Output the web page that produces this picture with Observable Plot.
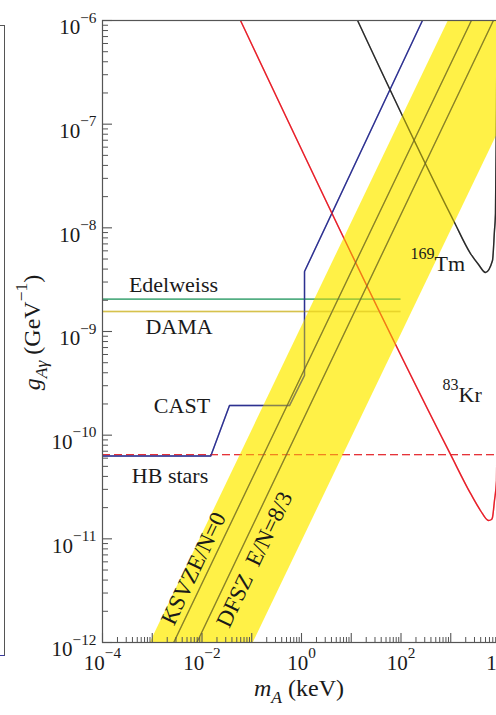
<!DOCTYPE html>
<html>
<head>
<meta charset="utf-8">
<script src="https://cdn.jsdelivr.net/npm/d3@7"></script>
<script src="https://cdn.jsdelivr.net/npm/@observablehq/plot@0.6"></script>
<style>
  html, body { margin: 0; padding: 0; background: #fff; overflow: hidden; width: 496px; height: 715px; }
  #wrap { position: relative; width: 496px; height: 715px; overflow: hidden; }
  #chart svg { max-width: none !important; display: block; }
  /* edge of the neighbouring panel */
  .neighbor { position: absolute; left: 0; top: 25px; width: 5px; height: 631px; box-sizing: border-box;
              border-right: 1.2px solid #555; border-top: 1.2px solid #555; border-bottom: 1.5px solid #3a3aa0; }
</style>
</head>
<body>
<div id="wrap"><div id="chart"></div><div class="neighbor"></div></div>
<script>
// ---- axes: decades, tick values and tick labels ----
const xDecades = [1e-4, 1e-3, 1e-2, 1e-1, 1e0, 1e1, 1e2, 1e3, 1e4];
const yDecades = [1e-12, 1e-11, 1e-10, 1e-9, 1e-8, 1e-7, 1e-6];
const minorSteps = [2, 3, 4, 5, 6, 7, 8, 9];
const xTickValues = [1e-4, 1e-2, 1e0, 1e2, 1e4];
const xTickLabels = ["10^{−4}", "10^{−2}", "10^{0}", "10^{2}", "10^{4}"];
const yTickValues = [1e-12, 1e-11, 1e-10, 1e-9, 1e-8, 1e-7, 1e-6];
const yTickLabels = ["10^{−12}", "10^{−11}", "10^{−10}", "10^{−9}", "10^{−8}", "10^{−7}", "10^{−6}"];
const xTitle = "~m~_{~A~} (keV)";
const yTitle = "~g~_{~Aγ~} (GeV^{−1})";

// ---- CAST helioscope limit ----
const castMass = [1e-4, 0.015, 0.0357, 0.574, 1.15, 1.15, 270];
const castG    = [6.3e-11, 6.3e-11, 1.93e-10, 1.93e-10, 3.77e-10, 3.79e-9, 1e-6];

// ---- 83Kr resonant absorption limit ----
const krMass = [0.0594, 989, 2495, 3963, 5741, 6592, 6902, 7568, 8318, 9120, 9550];
const krG    = [1e-6, 6.52e-11, 2.74e-11, 1.875e-11, 1.503e-11, 1.538e-11, 1.607e-11, 2.344e-11, 3.656e-11, 2.0e-9, 1.7e-7];

// ---- 169Tm resonant absorption limit ----
const tmMass = [13.4, 1135, 2495, 3614, 4989, 6902, 7568, 7925, 8318, 8511];
const tmG    = [1e-6, 1.178e-8, 5.65e-9, 4.43e-9, 3.71e-9, 4.84e-9, 9.42e-9, 1.374e-8, 1.449e-7, 1e-6];

// ---- flat limits ----
const hbG = 6.5e-11;          // horizontal-branch stars
const edelweissG = 2.05e-9;   // Edelweiss
const damaG = 1.56e-9;        // DAMA
const flatLimitMass = [1e-4, 100];

// ---- QCD axion band and benchmark models (mass at the bottom and top of the frame) ----
const bandG = [1e-12, 1e-6];
const bandLowMass  = [9.2e-4, 902];
const bandHighMass = [0.108, 1.08e5];
const ksvzMass = [2.7e-3, 2.6e3];
const dfszMass = [7.9e-3, 7.2e3];

// ---- annotations ----
const limitLabels = ["Edelweiss", "DAMA", "CAST", "HB stars"];
const limitLabelMass = [2.67e-3, 3.45e-3, 3.96e-3, 2.28e-3];
const limitLabelG = [2.82e-9, 1.11e-9, 1.92e-10, 4.06e-11];
const isotopeLabels = ["^{169}Tm", "^{83}Kr"];
const isotopeLabelMass = [155, 682];
const isotopeLabelG = [4.5e-9, 2.45e-10];
const modelLabels = ["KSVZE/N=0", "DFSZ\u00a0\u00a0E/N=8/3"];
const modelLabelMass = [6.75e-3, 0.1135];
const modelLabelG = [5.18e-12, 6.33e-12];

// ---- layout ----
const W = 505, H = 715, ML = 102, MR = 5, MT = 20, MB = 73;
const plotW = W - ML - MR, plotH = H - MT - MB;
const serif = "'Liberation Serif', 'Times New Roman', serif";
const ink = "#1a1a1a";
const axisInk = "#555";

const cast = d3.zip(castMass, castG);
const kr = d3.zip(krMass, krG);
const tm = d3.zip(tmMass, tmG);
const band = bandG.map((g, i) => ({g, lo: bandLowMass[i], hi: bandHighMass[i]}));
const ksvz = d3.zip(ksvzMass, bandG);
const dfsz = d3.zip(dfszMass, bandG);
const xMinor = xDecades.slice(0, -1).flatMap(d => minorSteps.map(k => k * d));
const yMinor = yDecades.slice(0, -1).flatMap(d => minorSteps.map(k => k * d));

// limit curves; drawn once beneath the band and once, faintly, above it
function limitCurves(op) {
  return [
    Plot.ruleY([edelweissG], {x1: flatLimitMass[0], x2: flatLimitMass[1], stroke: "#2f9e68", strokeWidth: 1.3, strokeOpacity: op}),
    Plot.ruleY([damaG], {x1: flatLimitMass[0], x2: flatLimitMass[1], stroke: "#d6c24e", strokeWidth: 1.3, strokeOpacity: op}),
    Plot.ruleY([hbG], {stroke: "#e5323a", strokeWidth: 1.3, strokeDasharray: "8,4", strokeOpacity: op}),
    Plot.line(cast, {x: d => d[0], y: d => d[1], stroke: "#2e3192", strokeWidth: 1.4, strokeOpacity: op, clip: true}),
    Plot.line(kr, {x: d => d[0], y: d => d[1], stroke: "#e8202a", strokeWidth: 1.4, strokeOpacity: op, curve: "monotone-x", clip: true}),
    Plot.line(tm, {x: d => d[0], y: d => d[1], stroke: "#2a2a2a", strokeWidth: 1.4, strokeOpacity: op, curve: "monotone-x", clip: true})
  ];
}
function modelLines(op) {
  return [
    Plot.line(ksvz, {x: d => d[0], y: d => d[1], stroke: "#444", strokeWidth: 1.3, strokeOpacity: op, clip: true}),
    Plot.line(dfsz, {x: d => d[0], y: d => d[1], stroke: "#444", strokeWidth: 1.3, strokeOpacity: op, clip: true})
  ];
}

const chart = Plot.plot({
  width: W, height: H,
  marginLeft: ML, marginRight: MR, marginTop: MT, marginBottom: MB,
  style: "font-family: 'Liberation Serif', 'Times New Roman', serif; background: white; max-width: none; overflow: hidden;",
  x: {type: "log", domain: [xDecades[0], xDecades[xDecades.length - 1]], axis: null},
  y: {type: "log", domain: [yDecades[0], yDecades[yDecades.length - 1]], axis: null},
  marks: [
    ...limitCurves(1),
    ...modelLines(1),
    Plot.areaX(band, {y: "g", x1: "lo", x2: "hi", fill: "#ffec00", fillOpacity: 0.72, clip: true}),
    ...limitCurves(0.4),
    ...modelLines(0.5),
    Plot.frame({stroke: axisInk, strokeWidth: 1.2}),
    // inward ticks on the left and bottom axes
    Plot.tickY(yDecades, {y: d => d, insetRight: plotW - 10, stroke: axisInk, strokeWidth: 1.1}),
    Plot.tickY(yMinor, {y: d => d, insetRight: plotW - 6, stroke: axisInk, strokeWidth: 1}),
    Plot.tickX(xDecades, {x: d => d, insetTop: plotH - 9, stroke: axisInk, strokeWidth: 1.1}),
    Plot.tickX(xMinor, {x: d => d, insetTop: plotH - 5, stroke: axisInk, strokeWidth: 1}),
    // tick labels
    Plot.text(yTickValues, {y: d => d, text: (d, i) => yTickLabels[i], frameAnchor: "left", textAnchor: "end", dx: -6, dy: 7, fontSize: 21, fill: ink, fontFamily: serif}),
    Plot.text(xTickValues, {x: d => d, text: (d, i) => xTickLabels[i], frameAnchor: "bottom", textAnchor: "middle", dy: 27, fontSize: 21, fill: ink, fontFamily: serif}),
    // axis titles
    Plot.text([xTitle], {text: d => d, frameAnchor: "bottom", textAnchor: "middle", dx: -2.5, dy: 53, fontSize: 24, fill: ink, fontFamily: serif}),
    Plot.text([yTitle], {text: d => d, frameAnchor: "left", textAnchor: "middle", rotate: -90, dx: -70, dy: 1, fontSize: 24, fill: ink, fontFamily: serif}),
    // curve annotations
    Plot.text(limitLabels, {x: (d, i) => limitLabelMass[i], y: (d, i) => limitLabelG[i], text: d => d, fontSize: 22, fill: ink, fontFamily: serif}),
    Plot.text(isotopeLabels, {x: (d, i) => isotopeLabelMass[i], y: (d, i) => isotopeLabelG[i], text: d => d, textAnchor: "start", fontSize: 22, fill: ink, fontFamily: serif}),
    Plot.text(modelLabels, {x: (d, i) => modelLabelMass[i], y: (d, i) => modelLabelG[i], text: d => d, rotate: -64.4, fontSize: 23, fill: ink, fontFamily: serif})
  ]
});

document.getElementById("chart").appendChild(chart);

// Turn ^{..} superscripts, _{..} subscripts and ~..~ italics into tspans.
(function richText(svg) {
  const ns = "http://www.w3.org/2000/svg";
  svg.querySelectorAll("text").forEach(el => {
    const src = el.textContent;
    if (!/[\^_~]/.test(src)) return;
    const size = parseFloat(getComputedStyle(el).fontSize) || 20;
    el.textContent = "";
    const re = /([\^_])\{([^}]*)\}|([^\^_]+)/g;
    let m, level = 0;
    while ((m = re.exec(src))) {
      const kind = m[1] ? (m[1] === "^" ? "sup" : "sub") : "base";
      const content = m[1] ? m[2] : m[3];
      const target = kind === "sup" ? -0.55 * size : kind === "sub" ? 0.3 * size : 0;
      let first = true;
      content.split("~").forEach((piece, i) => {
        if (!piece) return;
        const ts = document.createElementNS(ns, "tspan");
        if (first) {
          const shift = target - level;
          if (shift) ts.setAttribute("dy", shift.toFixed(2));
          level = target;
          first = false;
        }
        if (kind !== "base") ts.setAttribute("font-size", (0.73 * size).toFixed(2));
        if (i % 2 === 1) ts.setAttribute("font-style", "italic");
        ts.textContent = piece;
        el.appendChild(ts);
      });
    }
  });
})(chart);
</script>
</body>
</html>
